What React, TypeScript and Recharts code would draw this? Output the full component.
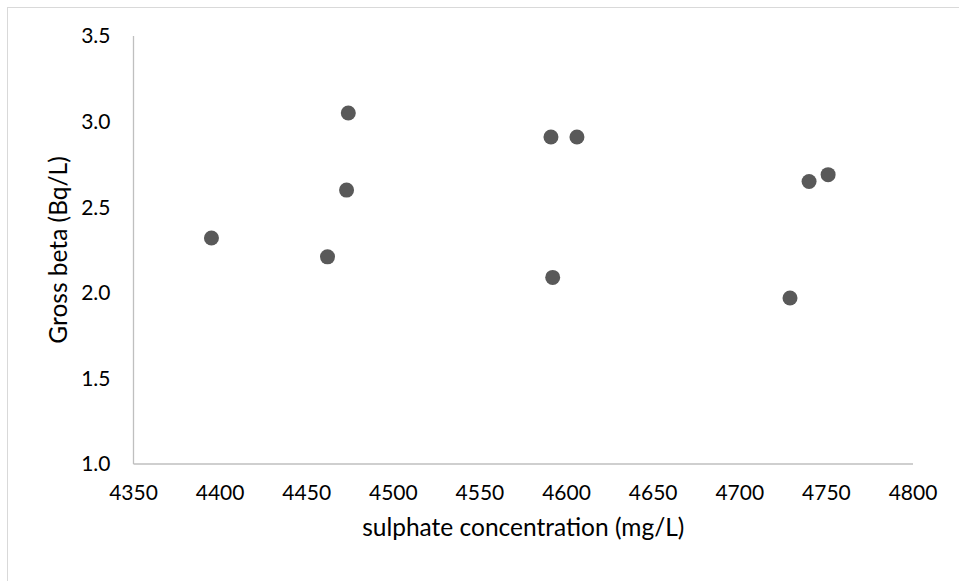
import { ScatterChart, Scatter, XAxis, YAxis } from 'recharts';

// sulphate (mg/L) vs gross beta (Bq/L)
const sulphate = [4395, 4462, 4474, 4473, 4591, 4606, 4592, 4740, 4751, 4729];
const grossBeta = [2.32, 2.21, 3.05, 2.6, 2.91, 2.91, 2.09, 2.65, 2.69, 1.97];

const xTicks = [4350, 4400, 4450, 4500, 4550, 4600, 4650, 4700, 4750, 4800];
const yTicks = [1.0, 1.5, 2.0, 2.5, 3.0, 3.5];

const points = sulphate.map((s, i) => ({ x: s, y: grossBeta[i] }));

const font = 'Lato, "Open Sans", sans-serif';

const Dot = (props: any) => <circle cx={props.cx} cy={props.cy} r={7.5} fill="#595959" />;

export default function App() {
  return (
    <div style={{ position: 'absolute', left: 0, top: 0, width: 959, height: 581, overflow: 'hidden', background: '#fff' }}>
      <div style={{ position: 'absolute', left: 7, top: 7, width: 1000, height: 1000, border: '1px solid #d9d9d9' }} />
      <div style={{ position: 'absolute', left: 0, top: 0 }}>
        <ScatterChart width={959} height={581} margin={{ top: 36, right: 46, bottom: 0, left: 0.5 }}>
          <XAxis
            type="number"
            dataKey="x"
            domain={[4350, 4800]}
            ticks={xTicks}
            height={117}
            tickLine={false}
            tickSize={0}
            tickMargin={21}
            axisLine={{ stroke: '#bfbfbf', strokeWidth: 1.3 }}
            tick={{ fill: '#000', fontSize: 21, fontFamily: font }}
            label={{ value: 'sulphate concentration (mg/L)', position: 'insideBottom', offset: 45, fill: '#000', fontSize: 24.5, fontFamily: font }}
          />
          <YAxis
            type="number"
            dataKey="y"
            domain={[1, 3.5]}
            ticks={yTicks}
            width={133}
            tickLine={false}
            tickSize={0}
            tickMargin={23}
            tickFormatter={(v: number) => v.toFixed(1)}
            axisLine={{ stroke: '#bfbfbf', strokeWidth: 1.3 }}
            tick={{ fill: '#000', fontSize: 21, fontFamily: font }}
            label={{ value: 'Gross beta (Bq/L)', angle: -90, position: 'insideLeft', offset: 58, fill: '#000', fontSize: 24.5, fontFamily: font, style: { textAnchor: 'middle' } }}
          />
          <Scatter data={points} fill="#595959" shape={Dot} isAnimationActive={false} />
        </ScatterChart>
      </div>
    </div>
  );
}
